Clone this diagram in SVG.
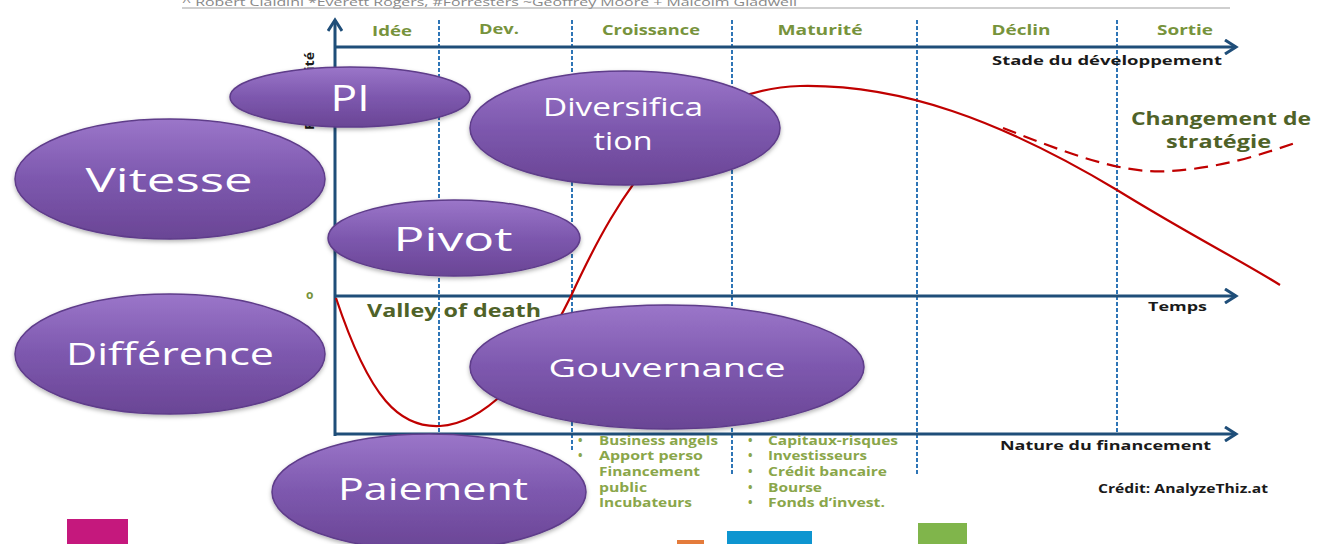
<svg xmlns="http://www.w3.org/2000/svg" width="1327" height="544" viewBox="0 0 1327 544">
<style>
.axis{stroke:#1f4e79;stroke-width:3;fill:none}
.div{stroke:#2e75b6;stroke-width:2;stroke-dasharray:4 2;fill:none}
.curve{stroke:#c00000;stroke-width:2.2;fill:none}
.stage{font-family:"Open Sans",sans-serif;font-weight:bold;font-size:14px;fill:#77933c;text-anchor:middle}
.lbl{font-family:"Open Sans",sans-serif;font-weight:bold;font-size:13px;fill:#1a1a1a}
.olive{font-family:"Open Sans",sans-serif;font-weight:bold;font-size:17px;fill:#4f6228}
.bul{font-family:"Open Sans",sans-serif;font-weight:bold;font-size:12px;fill:#8aa64a}
.node ellipse{fill:url(#pg);stroke:#5e3c8a;stroke-width:1.5;filter:url(#sh)}
.node text{font-family:"Open Sans",sans-serif;fill:#ffffff;text-anchor:middle}
</style>
<defs>
<linearGradient id="pg" x1="0" y1="0" x2="0" y2="1">
<stop offset="0" stop-color="#9b76c9"/>
<stop offset="0.5" stop-color="#7d58ae"/>
<stop offset="1" stop-color="#6a4595"/>
</linearGradient>
<filter id="sh" x="-10%" y="-10%" width="120%" height="130%">
<feDropShadow dx="0" dy="2" stdDeviation="2" flood-color="#000" flood-opacity="0.3"/>
</filter>
<marker id="arr" viewBox="0 0 16 16" refX="13" refY="8" markerWidth="16" markerHeight="16" markerUnits="userSpaceOnUse" orient="auto">
<path d="M2,1 L13,8 L2,15" fill="none" stroke="#1f4e79" stroke-width="3"/>
</marker>
</defs>
<rect width="1327" height="544" fill="#ffffff"/>

<text x="182" y="6" font-family="Open Sans, sans-serif" font-size="11" fill="#888" textLength="615" lengthAdjust="spacingAndGlyphs">^ Robert Cialdini *Everett Rogers, #Forresters ~Geoffrey Moore + Malcolm Gladwell</text>
<line x1="182" y1="8" x2="1230" y2="8" stroke="#a0a0a0" stroke-width="1.2"/>

<g id="connectors">
<line class="div" x1="439" y1="20" x2="439" y2="434"/>
<line class="div" x1="572" y1="20" x2="572" y2="452"/>
<line class="div" x1="732" y1="20" x2="732" y2="474"/>
<line class="div" x1="917" y1="20" x2="917" y2="476"/>
<line class="div" x1="1117" y1="20" x2="1117" y2="434"/>
<line class="axis" x1="335" y1="436" x2="335" y2="20" marker-end="url(#arr)"/>
<line class="axis" x1="334" y1="47" x2="1236" y2="47" marker-end="url(#arr)"/>
<line class="axis" x1="334" y1="296" x2="1236" y2="296" marker-end="url(#arr)"/>
<line class="axis" x1="334" y1="434" x2="1236" y2="434" marker-end="url(#arr)"/>
<path class="curve" d="M336,298 C370,400 400,428 440,426 C480,424 530,380 571,296 C620,190 680,90 800,86 C900,84 1000,120 1117,190 C1190,235 1240,260 1280,285"/>
<path class="curve" stroke-dasharray="14 8" d="M1003,128 C1060,150 1120,175 1170,171 C1220,168 1260,155 1295,143"/>
</g>

<text class="stage" x="392" y="36" textLength="40" lengthAdjust="spacingAndGlyphs">Idée</text>
<text class="stage" x="499" y="34" textLength="40" lengthAdjust="spacingAndGlyphs">Dev.</text>
<text class="stage" x="651" y="35" textLength="98" lengthAdjust="spacingAndGlyphs">Croissance</text>
<text class="stage" x="820" y="35" textLength="85" lengthAdjust="spacingAndGlyphs">Maturité</text>
<text class="stage" x="1021" y="35" textLength="59" lengthAdjust="spacingAndGlyphs">Déclin</text>
<text class="stage" x="1185" y="35" textLength="56" lengthAdjust="spacingAndGlyphs">Sortie</text>
<text class="lbl" x="992" y="65" textLength="230" lengthAdjust="spacingAndGlyphs">Stade du développement</text>
<text class="lbl" transform="translate(314,130) rotate(-90)" textLength="78" lengthAdjust="spacingAndGlyphs">Rentabilité</text>
<text x="306" y="299" font-family="Open Sans, sans-serif" font-weight="bold" font-size="12" fill="#77933c">o</text>
<text class="olive" x="367" y="317" textLength="174" lengthAdjust="spacingAndGlyphs">Valley of death</text>
<text class="lbl" x="1148" y="311" textLength="59" lengthAdjust="spacingAndGlyphs">Temps</text>
<text class="lbl" x="1000" y="450" textLength="211" lengthAdjust="spacingAndGlyphs">Nature du financement</text>
<text class="lbl" x="1098" y="493" font-size="12" textLength="170" lengthAdjust="spacingAndGlyphs">Crédit: AnalyzeThiz.at</text>
<text class="olive" x="1131" y="125" textLength="180" lengthAdjust="spacingAndGlyphs">Changement de</text>
<text class="olive" x="1166" y="148" textLength="105" lengthAdjust="spacingAndGlyphs">stratégie</text>

<g class="bul">
<text x="578" y="445">•</text><text x="599" y="445" textLength="119" lengthAdjust="spacingAndGlyphs">Business angels</text>
<text x="578" y="460">•</text><text x="599" y="460" textLength="104" lengthAdjust="spacingAndGlyphs">Apport perso</text>
<text x="599" y="476" textLength="101" lengthAdjust="spacingAndGlyphs">Financement</text>
<text x="599" y="492" textLength="48" lengthAdjust="spacingAndGlyphs">public</text>
<text x="599" y="507" textLength="93" lengthAdjust="spacingAndGlyphs">Incubateurs</text>
<text x="748" y="445">•</text><text x="768" y="445" textLength="130" lengthAdjust="spacingAndGlyphs">Capitaux-risques</text>
<text x="748" y="460">•</text><text x="768" y="460" textLength="99" lengthAdjust="spacingAndGlyphs">Investisseurs</text>
<text x="748" y="476">•</text><text x="768" y="476" textLength="119" lengthAdjust="spacingAndGlyphs">Crédit bancaire</text>
<text x="748" y="492">•</text><text x="768" y="492" textLength="54" lengthAdjust="spacingAndGlyphs">Bourse</text>
<text x="748" y="507">•</text><text x="768" y="507" textLength="117" lengthAdjust="spacingAndGlyphs">Fonds d’invest.</text>
</g>

<rect x="67" y="519" width="61" height="25" fill="#c5187d"/>
<rect x="677" y="540" width="27" height="4" fill="#e47b3b"/>
<rect x="727" y="531" width="85" height="13" fill="#0e95d0"/>
<rect x="918" y="523" width="49" height="21" fill="#80b54b"/>

<g id="n-pi" class="node"><ellipse cx="350" cy="97" rx="120" ry="30"/><text x="350" y="111" font-size="36" textLength="39" lengthAdjust="spacingAndGlyphs">PI</text></g>
<g id="n-diversification" class="node"><ellipse cx="625" cy="128" rx="155" ry="57"/><text x="623" y="116" font-size="26" textLength="160" lengthAdjust="spacingAndGlyphs">Diversifica</text><text x="623" y="150" font-size="26" textLength="59" lengthAdjust="spacingAndGlyphs">tion</text></g>
<g id="n-vitesse" class="node"><ellipse cx="170" cy="179" rx="155" ry="60"/><text x="169" y="192" font-size="33" textLength="167" lengthAdjust="spacingAndGlyphs">Vitesse</text></g>
<g id="n-pivot" class="node"><ellipse cx="454" cy="238" rx="126" ry="38"/><text x="453" y="251" font-size="33" textLength="119" lengthAdjust="spacingAndGlyphs">Pivot</text></g>
<g id="n-difference" class="node"><ellipse cx="170" cy="354" rx="155" ry="60"/><text x="170" y="365" font-size="31" textLength="208" lengthAdjust="spacingAndGlyphs">Différence</text></g>
<g id="n-gouvernance" class="node"><ellipse cx="667" cy="367" rx="197" ry="62"/><text x="667" y="377" font-size="26" textLength="237" lengthAdjust="spacingAndGlyphs">Gouvernance</text></g>
<g id="n-paiement" class="node"><ellipse cx="429" cy="492" rx="157" ry="58"/><text x="433" y="500" font-size="31" textLength="190" lengthAdjust="spacingAndGlyphs">Paiement</text></g>
</svg>
